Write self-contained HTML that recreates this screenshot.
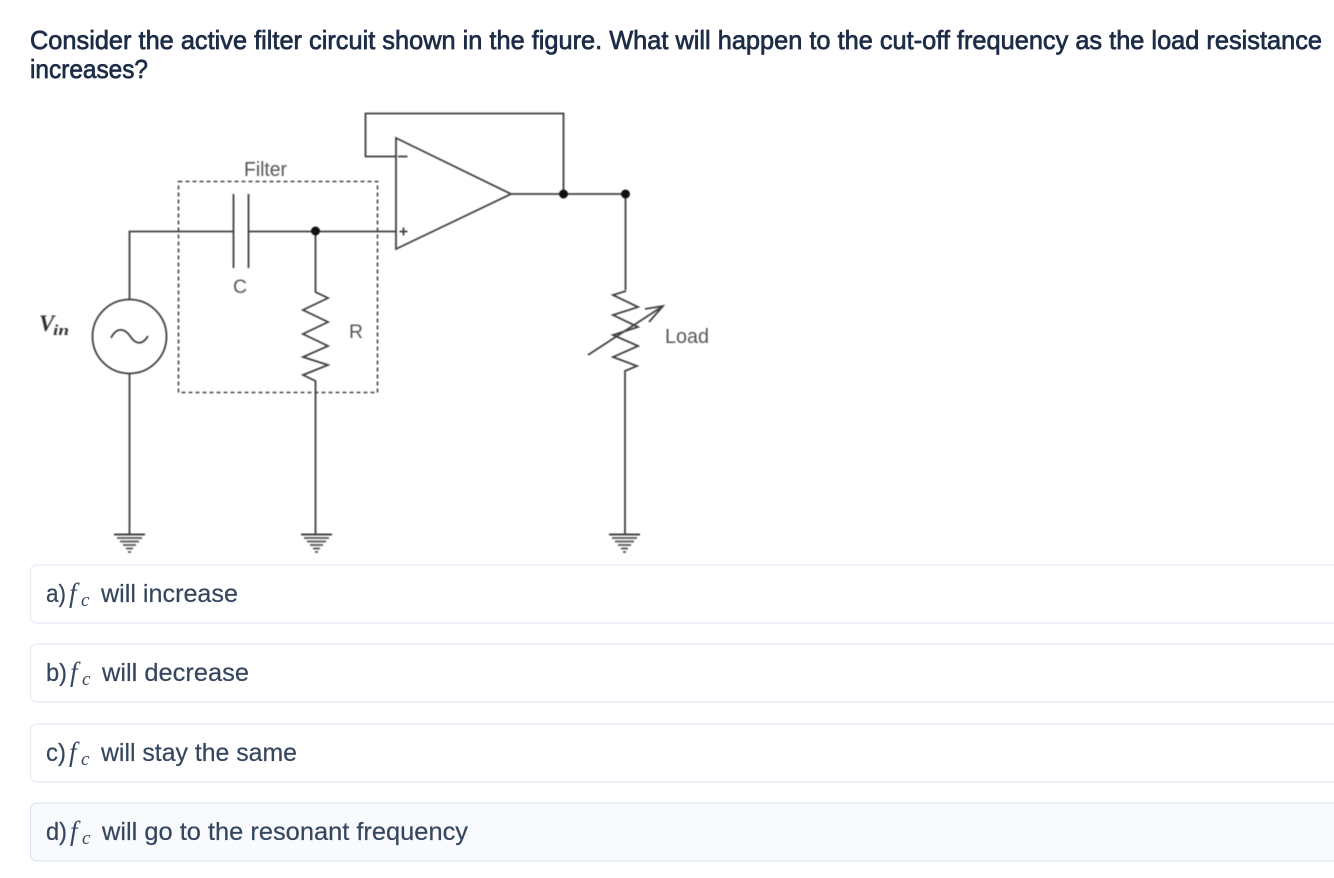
<!DOCTYPE html>
<html>
<head>
<meta charset="utf-8">
<style>
html,body{margin:0;padding:0;background:#fff;width:1334px;height:878px;overflow:hidden}
svg{display:block;position:absolute;left:0;top:0}
.t{font-family:"Liberation Sans",sans-serif}
.q{font-size:26px;font-weight:400;fill:#1d2c47;stroke:#1d2c47;stroke-width:.7px}
.o{font-size:25px;fill:#35465f;stroke:#35465f;stroke-width:.2px}
.f{font-family:"Liberation Serif",serif;font-style:italic;font-size:27px;fill:#35465f}
.s{font-family:"Liberation Serif",serif;font-style:italic;font-size:19px;fill:#35465f}
.d{font-size:20px;fill:#555}
.w{fill:none;stroke:#404040;stroke-width:1.8}
</style>
</head>
<body>
<svg width="1334" height="878" viewBox="0 0 1334 878">
<text class="t q" x="30" y="49" textLength="1292" lengthAdjust="spacingAndGlyphs">Consider the active filter circuit shown in the figure. What will happen to the cut-off frequency as the load resistance</text>
<text class="t q" x="30" y="78" textLength="118" lengthAdjust="spacingAndGlyphs">increases?</text>

<g>
<rect x="30.5" y="565" width="1340" height="58" rx="6" fill="#fff" stroke="#e6ebf6" stroke-width="1.2"/>
<rect x="30.5" y="644" width="1340" height="58" rx="6" fill="#fff" stroke="#e6ebf6" stroke-width="1.2"/>
<rect x="30.5" y="724" width="1340" height="58" rx="6" fill="#fff" stroke="#e6ebf6" stroke-width="1.2"/>
<rect x="30.5" y="803" width="1340" height="58" rx="6" fill="#f9fafd" stroke="#dfe5f2" stroke-width="1.2"/>
</g>

<g>
<text class="t o" x="46" y="602" textLength="20" lengthAdjust="spacingAndGlyphs">a)</text>
<text class="f" x="69" y="602">f</text><text class="s" x="81" y="606">c</text>
<text class="t o" x="101" y="602" textLength="137" lengthAdjust="spacingAndGlyphs">will increase</text>

<text class="t o" x="46" y="681" textLength="21" lengthAdjust="spacingAndGlyphs">b)</text>
<text class="f" x="70" y="681">f</text><text class="s" x="82" y="685">c</text>
<text class="t o" x="102" y="681" textLength="147" lengthAdjust="spacingAndGlyphs">will decrease</text>

<text class="t o" x="46" y="761" textLength="20" lengthAdjust="spacingAndGlyphs">c)</text>
<text class="f" x="69" y="761">f</text><text class="s" x="81" y="765">c</text>
<text class="t o" x="101" y="761" textLength="196" lengthAdjust="spacingAndGlyphs">will stay the same</text>

<text class="t o" x="46" y="840" textLength="21" lengthAdjust="spacingAndGlyphs">d)</text>
<text class="f" x="70" y="840">f</text><text class="s" x="82" y="844">c</text>
<text class="t o" x="102" y="840" textLength="366" lengthAdjust="spacingAndGlyphs">will go to the resonant frequency</text>
</g>

<g style="filter:blur(.4px)">
<rect x="178.5" y="181.5" width="199" height="211" fill="none" stroke="#444" stroke-width="1.6" stroke-dasharray="4 3"/>
<path class="w" d="M129.5 299V231.5H233.5M248.5 231.5H396M233.5 194V268M248.5 194V268"/>
<circle class="w" cx="129.5" cy="336.5" r="37"/>
<path class="w" d="M111 338C117 326 125 329 130 336C135 344 142 346 148 336"/>
<path class="w" d="M129.5 374V534"/>
<path class="w" d="M315.5 231.5V292L328 298L303 310L328 322L303 334L328 346L303 357L328 365L303 375L315.5 381V534"/>
<circle cx="315.5" cy="231" r="4.5" fill="#111"/>

<path class="w" d="M396 138L511 194L396 249Z" fill="#fff"/>
<path class="w" d="M396 156.5H365.5V113.5H563.5V194M511 194H625.5V290"/>
<path class="w" d="M398 156.5H407.5" stroke-width="1.4"/>
<path class="w" d="M399.5 231.5H407.5M403.5 227.5V235.5" stroke-width="1.2"/>
<circle cx="563.5" cy="194" r="4.5" fill="#111"/>
<circle cx="625.5" cy="194" r="4.5" fill="#111"/>

<path class="w" d="M626 291L613 295L638 307L613 315L638 327L613 335L638 346L613 357L637 366L625 371V534"/>
<path class="w" d="M588 355L663 306M645 309L663 306L649 322"/>

<g>
<path d="M114 534.5H145" stroke="#444" stroke-width="2"/>
<path d="M117 538H142M120 541.5H139M123 545H136M126 548.5H133M128 552H131" stroke="#666" stroke-width="2"/>
</g>
<g transform="translate(187,0)">
<path d="M114 534.5H145" stroke="#444" stroke-width="2"/>
<path d="M117 538H142M120 541.5H139M123 545H136M126 548.5H133M128 552H131" stroke="#666" stroke-width="2"/>
</g>
<g transform="translate(495,0)">
<path d="M114 534.5H145" stroke="#444" stroke-width="2"/>
<path d="M117 538H142M120 541.5H139M123 545H136M126 548.5H133M128 552H131" stroke="#666" stroke-width="2"/>
</g>

<text class="t d" x="244" y="176" textLength="43" lengthAdjust="spacingAndGlyphs">Filter</text>
<text class="t d" x="233" y="293" textLength="14" lengthAdjust="spacingAndGlyphs" style="font-size:19px">C</text>
<text class="t d" x="349" y="338" textLength="14" lengthAdjust="spacingAndGlyphs" style="font-size:19px">R</text>
<text class="t d" x="665" y="343" textLength="44" lengthAdjust="spacingAndGlyphs">Load</text>
<text x="39" y="331" style="font-family:'Liberation Serif',serif;font-style:italic;font-weight:700;font-size:23px;fill:#333">V</text>
<text x="53" y="335" textLength="16" lengthAdjust="spacingAndGlyphs" style="font-family:'Liberation Serif',serif;font-style:italic;font-weight:700;font-size:15px;fill:#333">in</text>
</g>
</svg>
</body>
</html>
